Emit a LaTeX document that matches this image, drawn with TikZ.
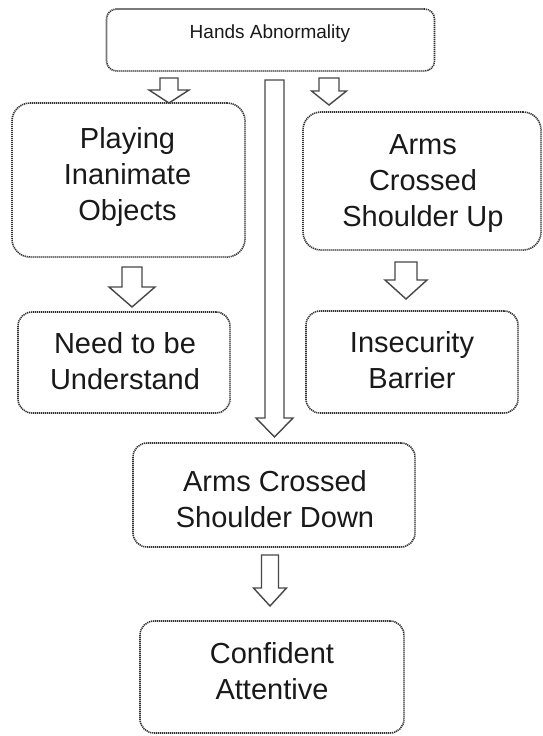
\documentclass[tikz,border=0pt]{standalone}
\usepackage{fontspec}
\setmainfont{Liberation Sans}
\newcommand\blockarr[6]{%
  \draw[barrow] ({#1-#5},{#2}) -- ({#1+#5},{#2}) -- ({#1+#5},{#3}) -- ({#1+#6},{#3})
    -- ({#1},{#4}) -- ({#1-#6},{#3}) -- ({#1-#5},{#3}) -- cycle;}
\begin{document}
\begin{tikzpicture}[x=1pt,y=-1pt,
  frame/.style={draw=black!80, line width=1.6pt, dash pattern=on 1.2pt off 0.8pt,
    rounded corners=#1, inner sep=0pt},
  frame/.default=14pt,
  big/.style={font=\fontsize{29}{36}\selectfont, text=black!90, align=center, inner sep=0pt},
  small/.style={font=\fontsize{19}{23}\selectfont, text=black!90, align=center, inner sep=0pt},
  barrow/.style={draw=black!72, line width=1.4pt, fill=white, line join=miter}]
\useasboundingbox (0,0) rectangle (542,736);
% boxes
\node[frame=10pt, minimum width=328pt, minimum height=62pt] (top) at (270.5,40) {};
\node[small] (toptxt) at (270,33.5) {Hands Abnormality};
\node[frame=18pt, minimum width=233pt, minimum height=154pt] (play) at (128.5,180) {};
\node[big] (playtxt) at (127.5,177) {Playing\\Inanimate\\Objects};
\node[frame=18pt, minimum width=238pt, minimum height=138pt] (up) at (422,181) {};
\node[big] (uptxt) at (423,183.5) {Arms\\Crossed\\Shoulder Up};
\node[frame, minimum width=212pt, minimum height=101pt] (need) at (124,362.5) {};
\node[big] (needtxt) at (125,361.5) {Need to be\\Understand};
\node[frame, minimum width=212pt, minimum height=102pt] (ins) at (412,362) {};
\node[big] (instxt) at (412,360.5) {Insecurity\\Barrier};
\node[frame, minimum width=282pt, minimum height=104pt] (down) at (274,495) {};
\node[big] (downtxt) at (275,499.5) {Arms Crossed\\Shoulder Down};
\node[frame, minimum width=264pt, minimum height=112pt] (conf) at (272,677) {};
\node[big] (conftxt) at (272,671) {Confident\\Attentive};
% block arrows: cx, top, head start, tip, shaft half width, head half width
\blockarr{169}{78}{90}{103}{9}{20}
\blockarr{329}{78}{91}{105}{10}{17.5}
\blockarr{274.5}{80}{418}{437}{9.5}{18.5}
\blockarr{132}{267}{287}{307}{10}{23}
\blockarr{406}{262}{280}{299}{11}{21}
\blockarr{270}{555}{588}{606}{8.5}{16.5}
\end{tikzpicture}
\end{document}
